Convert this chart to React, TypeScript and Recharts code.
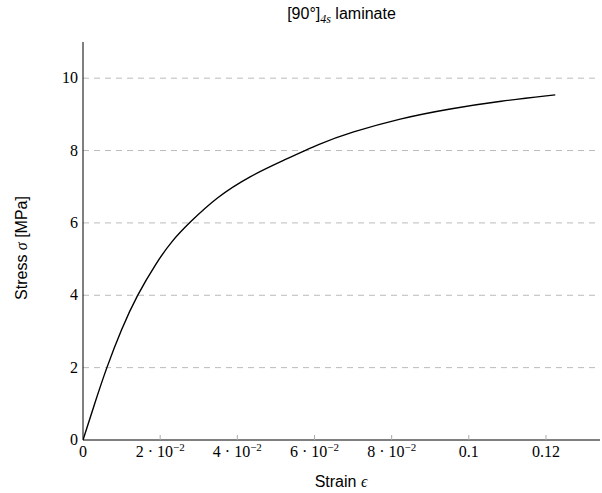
import { LineChart, Line, XAxis, YAxis, CartesianGrid } from "recharts"

const strain = [0, 0.003, 0.006, 0.01, 0.014, 0.019, 0.023, 0.0275, 0.0347, 0.0433, 0.052, 0.0615, 0.0693, 0.0822, 0.0952, 0.1082, 0.1224]
const stress = [0, 1.0, 1.97, 3.08, 4.0, 4.9, 5.5, 6.0, 6.72, 7.3, 7.73, 8.2, 8.5, 8.89, 9.16, 9.37, 9.54]
const xTicks = [0, 0.02, 0.04, 0.06, 0.08, 0.1, 0.12]
const yTicks = [0, 2, 4, 6, 8, 10]
const gridValues = [2, 4, 6, 8, 10]

const data = strain.map((s, i) => ({ strain: s, stress: stress[i] }))

const SERIF = "'Liberation Serif', 'DejaVu Serif', serif"
const SANS = "'Liberation Sans', Arial, sans-serif"

function XTick({ x, y, payload }: any) {
  const v: number = payload.value
  let label: any
  if (v === 0) label = "0"
  else if (v >= 0.1) label = String(v)
  else {
    const m = Math.round(v * 100)
    label = (
      <>
        <tspan>{`${m} · 10`}</tspan>
        <tspan dy={-6} fontSize={11}>−2</tspan>
      </>
    )
  }
  return (
    <g>
      {v !== 0 && <line x1={x} x2={x} y1={y} y2={y - 5} stroke="#aaa" />}
      <text x={x} y={y + 17} textAnchor="middle" fontFamily={SERIF} fontSize={16} fill="#000">
        {label}
      </text>
    </g>
  )
}

function YTick({ x, y, payload }: any) {
  return (
    <text x={x - 5} y={y + 5} textAnchor="end" fontFamily={SERIF} fontSize={16} fill="#000">
      {payload.value}
    </text>
  )
}

export default function App() {
  return (
    <div style={{ position: "absolute", left: 0, top: 0, width: 602, height: 493, background: "#fff" }}>
      <div
        style={{
          position: "absolute",
          left: 83,
          width: 517,
          top: 5,
          textAlign: "center",
          fontFamily: SANS,
          fontSize: 16,
        }}
      >
        [90°]<sub style={{ fontFamily: SERIF, fontStyle: "italic", fontSize: 12 }}>4s</sub> laminate
      </div>
      <LineChart width={602} height={493} data={data} margin={{ top: 42, right: 2, bottom: 0, left: 0 }}>
        <CartesianGrid
          vertical={false}
          horizontalValues={gridValues}
          stroke="#bbb"
          strokeDasharray="6 5"
        />
        <XAxis
          dataKey="strain"
          type="number"
          domain={[0, 0.134]}
          ticks={xTicks}
          allowDataOverflow
          height={53}
          tickLine={false}
          tickSize={0}
          tickMargin={0}
          tick={<XTick />}
          axisLine={{ stroke: "#000" }}
          label={{
            content: () => (
              <text x={341} y={487} textAnchor="middle" fontFamily={SANS} fontSize={16} fill="#000">
                Strain <tspan fontFamily={SERIF} fontStyle="italic">ϵ</tspan>
              </text>
            ),
          }}
        />
        <YAxis
          type="number"
          domain={[0, 11]}
          ticks={yTicks}
          width={83}
          tickLine={false}
          tickSize={0}
          tickMargin={0}
          tick={<YTick />}
          axisLine={{ stroke: "#000" }}
          label={{
            content: () => (
              <text
                x={27}
                y={248}
                textAnchor="middle"
                transform="rotate(-90 27 248)"
                fontFamily={SANS}
                fontSize={16}
                fill="#000"
              >
                Stress <tspan fontFamily={SERIF} fontStyle="italic">σ</tspan> [MPa]
              </text>
            ),
          }}
        />
        <Line
          type="basis"
          dataKey="stress"
          stroke="#000"
          strokeWidth={1.4}
          dot={false}
          isAnimationActive={false}
        />
      </LineChart>
    </div>
  )
}
